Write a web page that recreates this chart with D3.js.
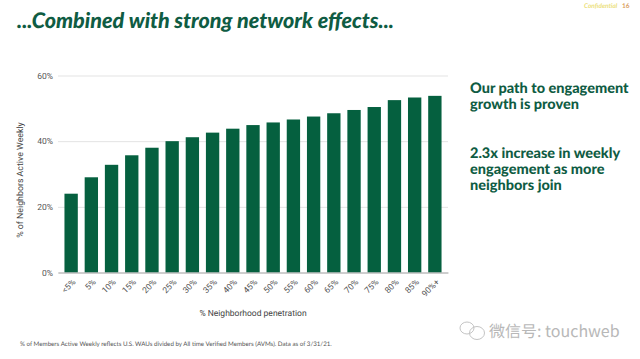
<!DOCTYPE html>
<head>
  <meta charset="utf-8">
  <script src="https://d3js.org/d3.v7.min.js"></script>
  <style>
    html, body { margin: 0; padding: 0; background: #fff; }
    svg { display: block; text-rendering: geometricPrecision; }
  </style>
</head>

<body>
  <svg></svg>
  <script type="text/javascript">
    const width = 640;
    const height = 359;

    const categories = ["<5%", "5%", "10%", "15%", "20%", "25%", "30%", "35%", "40%", "45%", "50%", "55%", "60%", "65%", "70%", "75%", "80%", "85%", "90%+"];
    const values = [24.0, 29.0, 32.8, 35.7, 38.0, 40.0, 41.2, 42.6, 43.8, 44.9, 45.7, 46.6, 47.5, 48.5, 49.5, 50.4, 52.5, 53.3, 53.8];
    const yTicks = [0, 20, 40, 60];
    const sideText = [
      ["Our path to engagement", "growth is proven"],
      ["2.3x increase in weekly", "engagement as more", "neighbors join"]
    ];

    const green = "#05603f";
    const svg = d3.select("svg").attr("width", width).attr("height", height);

    const x = d3.scaleBand().domain(categories).range([58, 448]).paddingInner(0.34).paddingOuter(0.32);
    const y = d3.scaleLinear().domain([0, 60]).range([272.5, 75.5]);

    // title and header
    svg.append("text")
      .attr("x", 17).attr("y", 28)
      .style("font", "italic 900 21.5px Lato")
      .style("fill", "#0f5c43")
      .text("...Combined with strong network effects...");

    svg.append("text")
      .attr("x", 584).attr("y", 8)
      .style("font", "italic 700 6.5px Lato")
      .style("fill", "#ecdf7e")
      .text("Confidential");

    svg.append("text")
      .attr("x", 622).attr("y", 8)
      .style("font", "700 6.5px Lato")
      .style("fill", "#d9a05f")
      .text("16");

    // axes
    const yAxis = svg.append("g")
      .attr("transform", "translate(58,0)")
      .call(d3.axisLeft(y).tickValues(yTicks).tickSize(-390).tickPadding(5).tickFormat((d) => d + "%"));
    yAxis.select(".domain").remove();
    yAxis.selectAll("line").style("stroke", "#e3e3e3");
    yAxis.selectAll("text")
      .style("font", "8.5px Roboto")
      .style("fill", "#555");

    svg.append("g").attr("class", "bars")
      .selectAll("rect")
      .data(values).enter()
      .append("rect")
      .attr("x", (d, i) => x(categories[i]))
      .attr("y", (d) => y(d))
      .attr("width", x.bandwidth())
      .attr("height", (d) => y(0) - y(d))
      .style("fill", green);

    const xAxis = svg.append("g")
      .attr("transform", "translate(0,272.5)")
      .call(d3.axisBottom(x).tickSize(0).tickPadding(7));
    xAxis.select(".domain").style("stroke", "#aaa").style("stroke-width", 1);
    xAxis.selectAll("text")
      .style("font", "8.5px Roboto")
      .style("fill", "#555")
      .attr("text-anchor", "end")
      .attr("dx", "2")
      .attr("dy", "6")
      .attr("transform", "rotate(-45 0 8)");

    svg.append("text")
      .attr("x", 253).attr("y", 316)
      .attr("text-anchor", "middle")
      .style("font", "8.5px Roboto")
      .style("fill", "#444")
      .text("% Neighborhood penetration");

    svg.append("text")
      .attr("transform", "translate(23,180) rotate(-90)")
      .attr("text-anchor", "middle")
      .style("font", "8.8px Roboto")
      .style("fill", "#444")
      .text("% of Neighbors Active Weekly");

    // right hand text
    const sideTops = [93, 158];
    sideText.forEach((lines, i) => {
      svg.append("g").selectAll("text")
        .data(lines).enter()
        .append("text")
        .attr("x", 470)
        .attr("y", (d, j) => sideTops[i] + j * 16)
        .style("font", "900 14.5px Lato")
        .style("fill", "#0f5c43")
        .text((d) => d);
    });

    svg.append("text")
      .attr("x", 20).attr("y", 346)
      .style("font", "6.2px Lato")
      .style("fill", "#555")
      .text("% of Members Active Weekly reflects U.S. WAUs divided by All time Verified Members (AVMs).  Data as of 3/31/21.");

    // watermark
    const mark = svg.append("g").style("fill", "none").style("stroke", "#c4c4c4").style("stroke-width", 1);
    mark.append("ellipse").attr("cx", 467).attr("cy", 328).attr("rx", 7).attr("ry", 6);
    mark.append("ellipse").attr("cx", 477).attr("cy", 333).attr("rx", 7.5).attr("ry", 6.5);

    svg.append("text")
      .attr("x", 489).attr("y", 337)
      .style("font", "16px 'Noto Sans CJK SC'")
      .style("fill", "#b8b8b8")
      .text("微信号: touchweb");
  </script>
</body>
